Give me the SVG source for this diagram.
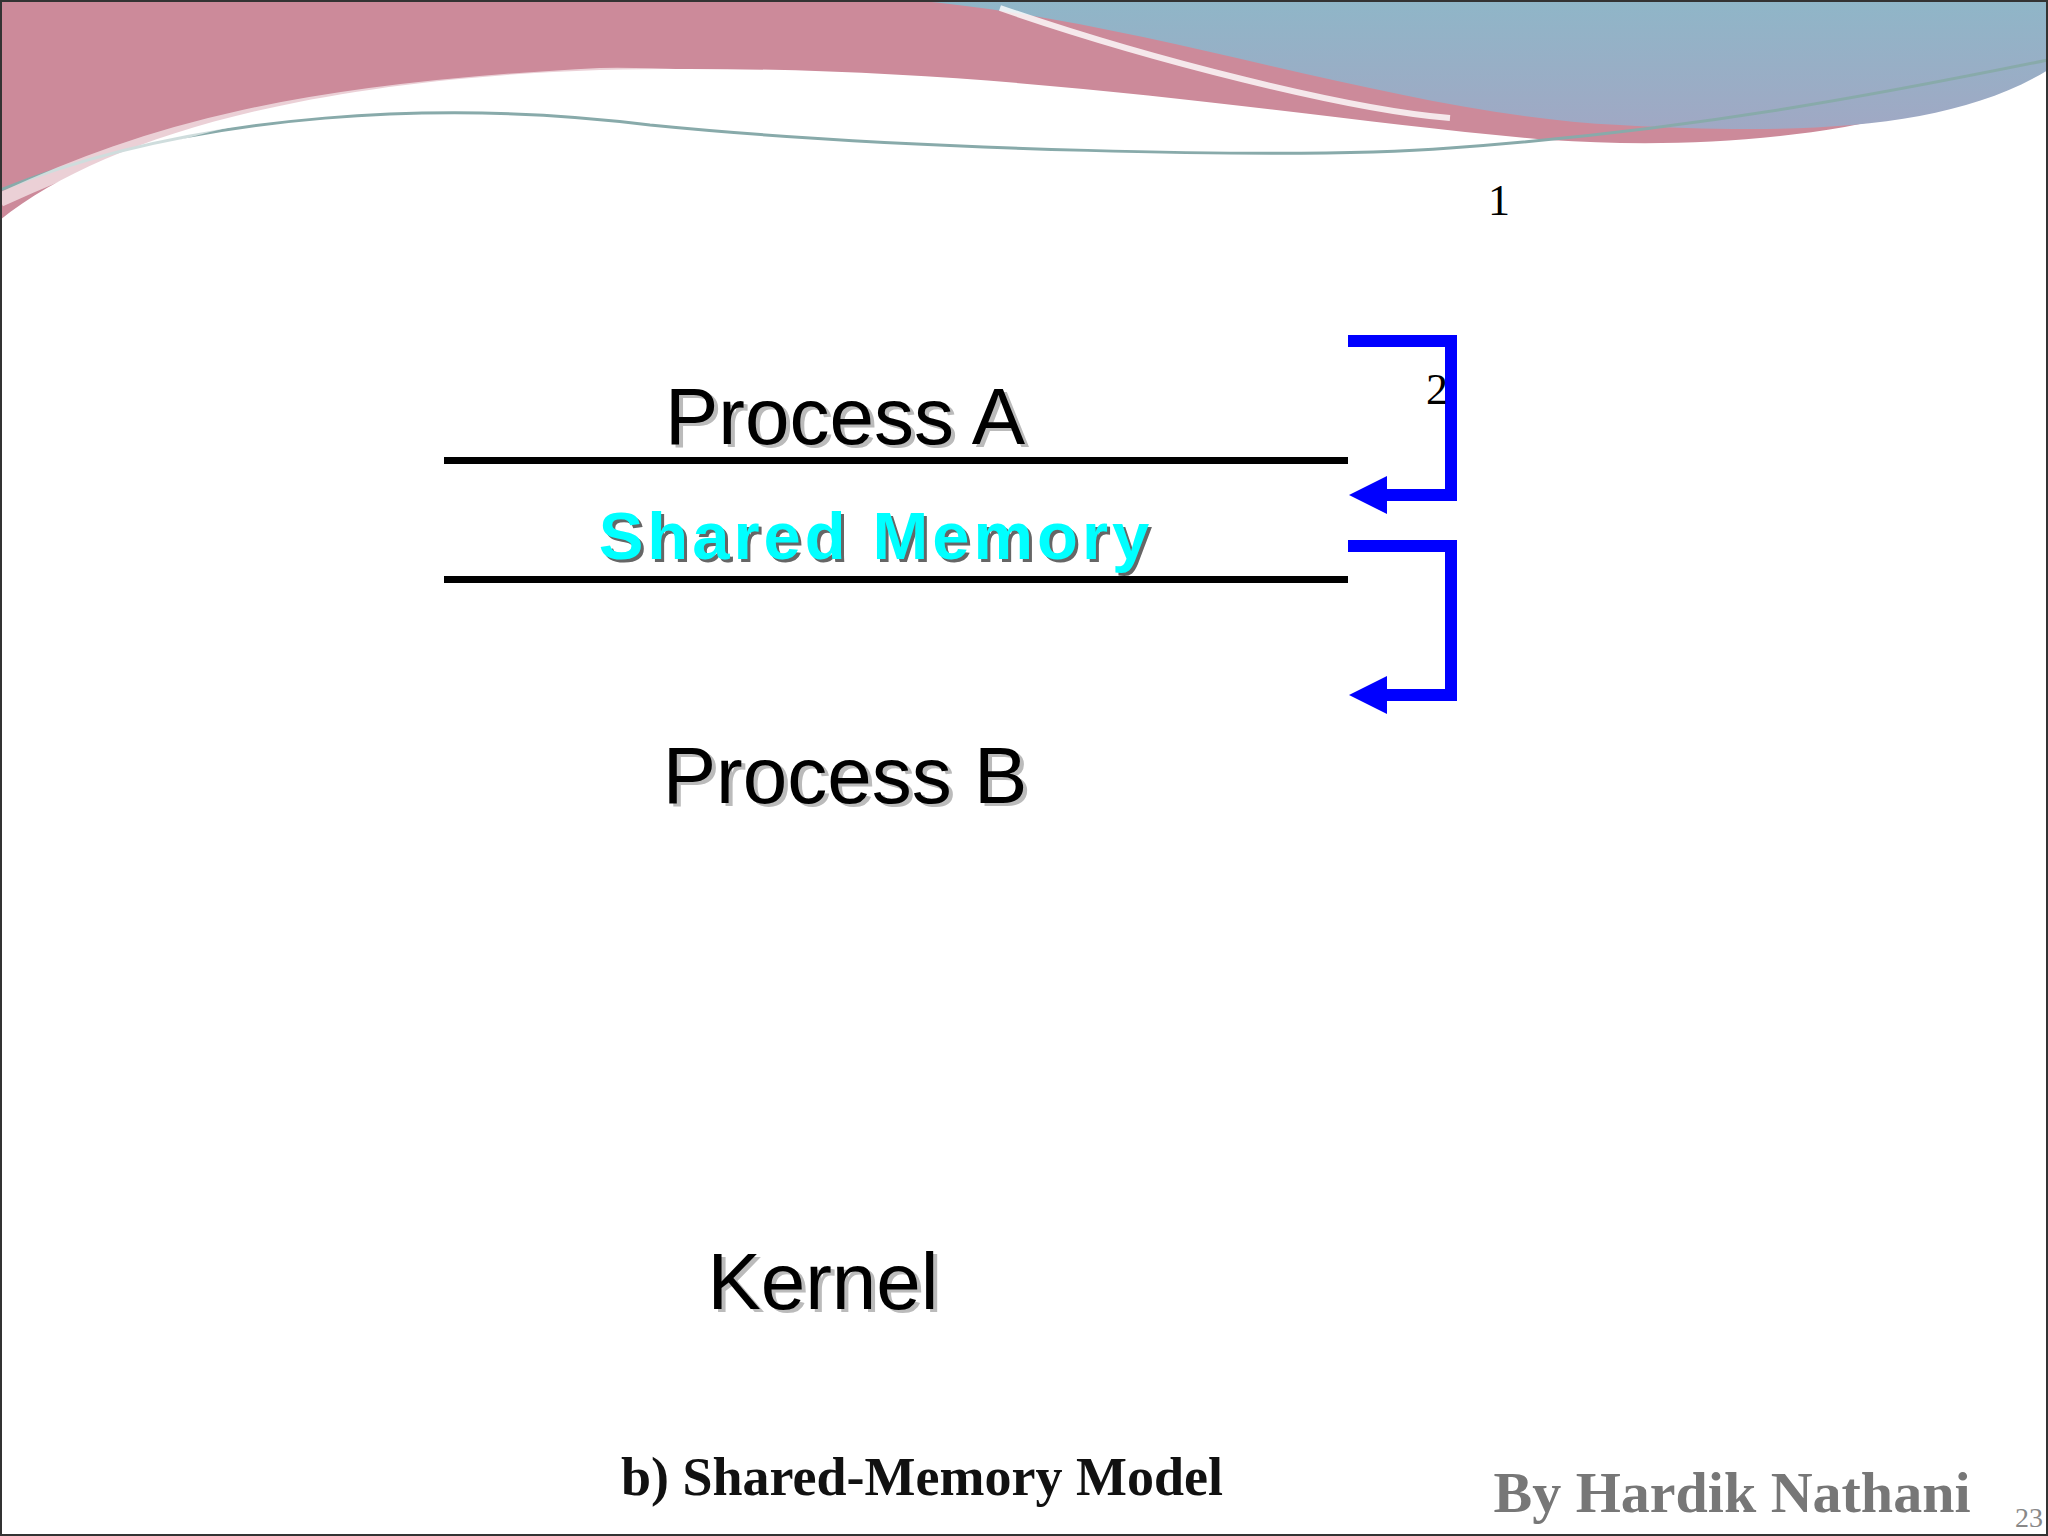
<svg xmlns="http://www.w3.org/2000/svg" width="2048" height="1536" viewBox="0 0 2048 1536">
<defs>
<style>
.lbl{font-family:"Liberation Sans",Arial,sans-serif;font-size:80px;fill:#000}
.sh{fill:#bbb}
.arr{fill:none;stroke:#0000ff;stroke-width:12}
.ser{font-family:"Liberation Serif","DejaVu Serif",serif}
</style>
<linearGradient id="bl" x1="0" y1="0" x2="0" y2="1"><stop offset="0" stop-color="#8fb6c8"/><stop offset="1" stop-color="#a0a8c4"/></linearGradient>
</defs>
<rect width="2048" height="1536" fill="#fff"/>
<g id="banner">
<path d="M0 0 H2048 V60 C1900 140 1700 150 1550 140 C1300 120 1000 60 600 70 C300 80 100 140 0 220 Z" fill="#cc8a9a"/>
<path d="M910 0 H2048 V70 C1950 130 1800 135 1620 125 C1400 115 1150 20 910 0 Z" fill="url(#bl)"/>
<path d="M1000 8 C1150 60 1350 110 1450 118" fill="none" stroke="#fff" stroke-width="6" opacity="0.8"/>
<path d="M0 190 C200 110 450 100 650 125 C900 150 1300 160 1450 148 C1700 130 1900 90 2048 60" fill="none" stroke="#8aa" stroke-width="3"/>
<path d="M0 200 C150 130 300 90 600 75 C800 72 1000 120 1200 140" fill="none" stroke="#fff" stroke-width="14" opacity="0.6"/>
</g>
<rect x="1" y="1" width="2046" height="1534" fill="none" stroke="#333" stroke-width="2"/>
<g id="lines">
<rect x="444" y="457" width="904" height="7" fill="#000"/>
<rect x="444" y="576" width="904" height="7" fill="#000"/>
</g>
<g id="processA"><text class="lbl sh" x="849" y="447" text-anchor="middle">Process A</text><text class="lbl" x="845" y="444" text-anchor="middle">Process A</text></g>
<g id="shared"><text x="879" y="562" text-anchor="middle" font-family="Liberation Sans,Arial,sans-serif" font-weight="bold" font-size="67" letter-spacing="4" fill="#666">Shared Memory</text><text x="876" y="559" text-anchor="middle" font-family="Liberation Sans,Arial,sans-serif" font-weight="bold" font-size="67" letter-spacing="4" fill="#00ffff">Shared Memory</text></g>
<g id="processB"><text class="lbl sh" x="849" y="806" text-anchor="middle">Process B</text><text class="lbl" x="845" y="803" text-anchor="middle">Process B</text></g>
<g id="kernel"><text class="lbl sh" x="827" y="1312" text-anchor="middle">Kernel</text><text class="lbl" x="823" y="1309" text-anchor="middle">Kernel</text></g>
<g id="connectors">
<path class="arr" d="M1348 341 H1451 V495 H1385"/>
<polygon points="1349,495 1387,476 1387,514" fill="#0000ff"/>
<path class="arr" d="M1348 546 H1451 V695 H1385"/>
<polygon points="1349,695 1387,676 1387,714" fill="#0000ff"/>
</g>
<text class="ser" x="1437" y="404" font-size="44" text-anchor="middle" fill="#000">2</text>
<text class="ser" x="1499" y="215" font-size="44" text-anchor="middle" fill="#000">1</text>
<text class="ser" x="922" y="1495" font-size="54" font-weight="bold" text-anchor="middle" fill="#111">b) Shared-Memory Model</text>
<text class="ser" x="1732" y="1512" font-size="58" font-weight="bold" text-anchor="middle" fill="#777">By Hardik Nathani</text>
<text class="ser" x="2015" y="1527" font-size="28" fill="#888">23</text>
</svg>
